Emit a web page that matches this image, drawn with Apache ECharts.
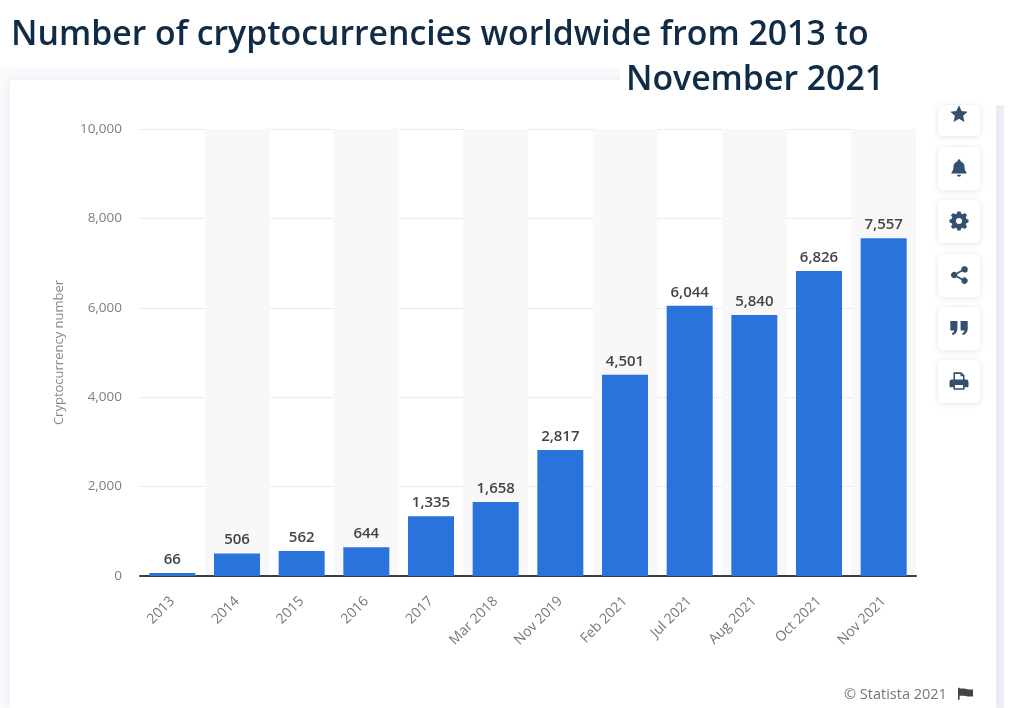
<!DOCTYPE html>
<html>
<head>
<meta charset="utf-8">
<style>
  html, body { margin: 0; padding: 0; background: #fff; }
  #chart { width: 1024px; height: 708px; }
</style>
<script src="https://cdn.jsdelivr.net/npm/echarts@6/dist/echarts.min.js"></script>
</head>
<body>
<div id="chart"></div>
<script>
const categories = ["2013", "2014", "2015", "2016", "2017", "Mar 2018", "Nov 2019", "Feb 2021", "Jul 2021", "Aug 2021", "Oct 2021", "Nov 2021"];
const coins = [66, 506, 562, 644, 1335, 1658, 2817, 4501, 6044, 5840, 6826, 7557];

const fontName = '"Open Sans", sans-serif';
const navy = "#0f2b46";
const iconBlue = "#34506f";

// side buttons, top to bottom (paths drawn in a 24 box)
const icons = [
  { y: 114, d: "M12 1l3.3 7.2 7.7.8-5.8 5.2 1.7 7.8-6.9-4-6.9 4 1.7-7.8L1 9l7.7-.8z" },
  { y: 168, d: "M12 1a2 2 0 0 1 2 2v.8c3.4.9 5 3.5 5 7 0 3.5 1 5.2 2.5 6.6V19h-19v-1.6C4 16 5 14.3 5 10.8c0-3.5 1.6-6.1 5-7V3a2 2 0 0 1 2-2zM9.5 20.5h5a2.5 2.5 0 0 1-5 0z" },
  { y: 221, d: "M10 0h4l.6 2.6 2.2.9 2.6-1.7 2.8 2.8-1.7 2.6.9 2.2 2.6.6v4l-2.6.6-.9 2.2 1.7 2.6-2.8 2.8-2.6-1.7-2.2.9-.6 2.6h-4l-.6-2.6-2.2-.9-2.6 1.7-2.8-2.8 1.7-2.6-.9-2.2-2.6-.6v-4l2.6-.6.9-2.2-1.7-2.6 2.8-2.8 2.6 1.7 2.2-.9z", hole: true },
  { y: 275, d: "M19 1a4 4 0 1 1-3 6.6L9.8 11a4 4 0 0 1 0 2l6.2 3.4a4 4 0 1 1-1 1.8L8.8 14.8a4 4 0 1 1 0-5.6L15 5.8A4 4 0 0 1 19 1z" },
  { y: 328, d: "M1 3h9v10c0 4-2.5 7-6 8l-1-2.5c2-.7 3-2 3-3.5H1zM14 3h9v10c0 4-2.5 7-6 8l-1-2.5c2-.7 3-2 3-3.5h-5z" },
  { y: 381, d: "M5 1h10l4 4v5h2a3 3 0 0 1 3 3v6a1 1 0 0 1-1 1h-4v3H5v-3H1a1 1 0 0 1-1-1v-6a3 3 0 0 1 3-3h2zM7 3v7h10V6h-3V3zM7 17v4h10v-4z" }
];
const flagPath = "M1 1h1.6v1H7c2 0 3 1 5 1h4v9h-4c-2 0-3-1-5-1H2.6v5H1z";

// graphic has no plain path type, so each svg path gets registered as a shape
function addShape(name, d) {
  echarts.graphic.registerShape(name, echarts.graphic.extendPath(d, {}));
}

const backdrop = [
  // pale page around the white card
  { type: "rect", z: -30, shape: { x: 0, y: 68, width: 1004, height: 640 }, style: { fill: "#f8fafc" } },
  { type: "rect", z: -29, shape: { x: 996, y: 104, width: 8, height: 604 }, style: { fill: "#eef1f6" } },
  { type: "rect", z: -28, shape: { x: 10, y: 80, width: 986, height: 628 }, style: { fill: "#fff", shadowBlur: 10, shadowColor: "rgba(120,140,170,0.12)" } },
  // white patch behind the second title line
  { type: "rect", z: -27, shape: { x: 620, y: 60, width: 404, height: 45 }, style: { fill: "#fff" } }
];

const iconScale = 19 / 24;
const buttons = [];
icons.forEach(function (ic, i) {
  const top = i === 0 ? 105 : ic.y - 21;
  addShape("icon" + i, ic.d);
  buttons.push({
    type: "rect", z: 5,
    shape: { x: 938, y: top, width: 42, height: ic.y + 22 - top, r: 5 },
    style: { fill: "#fff", shadowBlur: 6, shadowOffsetY: 1, shadowColor: "rgba(90,110,140,0.18)" }
  });
  buttons.push({
    type: "icon" + i, z: 6,
    x: 949.5, y: ic.y - 9.5, scaleX: iconScale, scaleY: iconScale,
    style: { fill: iconBlue }
  });
  if (ic.hole) {
    buttons.push({ type: "circle", z: 7, shape: { cx: 959, cy: ic.y, r: 3 }, style: { fill: "#fff" } });
  }
});

addShape("flag", flagPath);
const footer = [
  { type: "text", z: 5, x: 844, y: 687, style: { text: "© Statista 2021", font: "14.5px " + fontName, fill: "#777" } },
  { type: "flag", z: 5, x: 957, y: 687, scaleX: 1, scaleY: 0.8, style: { fill: "#444" } }
];

const chart = echarts.init(document.getElementById("chart"));
chart.setOption({
  backgroundColor: "transparent",
  animation: false,
  textStyle: { fontFamily: fontName },
  title: [
    { text: "Number of cryptocurrencies worldwide from 2013 to", left: 6, top: 13, textStyle: { fontFamily: fontName, fontSize: 33.8, fontWeight: 600, color: navy } },
    { text: "November 2021", left: 621, top: 58, textStyle: { fontFamily: fontName, fontSize: 33.8, fontWeight: 600, color: navy } }
  ],
  grid: { left: 140, right: 108, top: 129, bottom: 132 },
  xAxis: {
    type: "category",
    data: categories,
    axisLine: { lineStyle: { color: "#3a3f47", width: 2 } },
    axisTick: { show: false },
    axisLabel: { rotate: 45, interval: 0, color: "#777", fontSize: 14, margin: 23, fontFamily: fontName },
    splitArea: { show: true, interval: 0, areaStyle: { color: ["rgba(255,255,255,0)", "#f8f8f8"] } }
  },
  yAxis: {
    type: "value",
    min: 0,
    max: 10000,
    interval: 2000,
    name: "Cryptocurrency number",
    nameLocation: "middle",
    nameGap: 74,
    nameTextStyle: { color: "#888", fontSize: 13, fontFamily: fontName },
    axisLine: { show: false },
    axisTick: { show: false },
    axisLabel: {
      color: "#7d7d7d", fontSize: 13.5, margin: 18, fontFamily: fontName,
      formatter: function (v) { return v.toLocaleString("en-US"); }
    },
    splitLine: { lineStyle: { color: "#d6d6d6", type: "dotted" } }
  },
  series: [{
    type: "bar",
    data: coins,
    barWidth: 46,
    itemStyle: { color: "#2a72dc" },
    label: {
      show: true, position: "top", distance: 6,
      color: "#444", fontSize: 15, fontWeight: 600, fontFamily: fontName,
      formatter: function (p) { return p.value.toLocaleString("en-US"); }
    }
  }],
  graphic: backdrop.concat(buttons, footer)
});
</script>
</body>
</html>
